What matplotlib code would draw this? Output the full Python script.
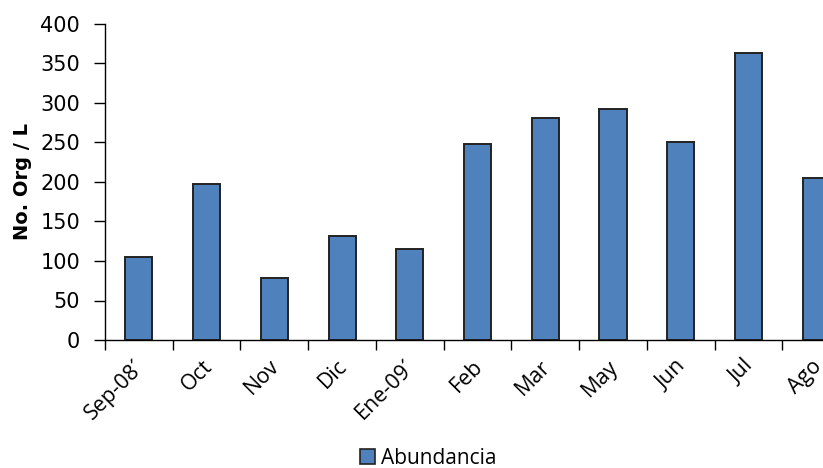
import matplotlib.pyplot as plt
import matplotlib.transforms as mtransforms
from matplotlib.patches import Patch
import numpy as np

# Monthly abundance
months = ["Sep-08´", "Oct", "Nov", "Dic", "Ene-09´", "Feb", "Mar", "May", "Jun", "Jul", "Ago"]
abundancia = [105, 197, 79, 132, 115, 248, 281, 292, 251, 363, 205]
y_ticks = [0, 50, 100, 150, 200, 250, 300, 350, 400]

BAR_COLOR = "#4F81BD"
EDGE_COLOR = "#222222"

fig = plt.figure(figsize=(8.23, 4.68), dpi=100)
# axes run past the right edge, so the last bar is cut like in the original
ax = fig.add_axes([105 / 823, 128 / 468, 745 / 823, 316 / 468])

x = np.arange(len(months))
ax.bar(x, abundancia, width=0.4, color=BAR_COLOR, edgecolor=EDGE_COLOR, linewidth=1.4)

ax.set_xlim(-0.5, len(months) - 0.5)
ax.set_ylim(0, 400)
ax.set_yticks(y_ticks)
ax.tick_params(axis="y", direction="out", length=8, width=1, labelsize=15, pad=10)

# ticks between categories, labels at the bar centers
ax.set_xticks(np.arange(len(months) + 1) - 0.5)
ax.set_xticklabels([])
ax.set_xticks(x, minor=True)
ax.set_xticklabels(months, minor=True, rotation=45, ha="right", rotation_mode="anchor",
                   family="Open Sans", fontsize=15.5)
ax.tick_params(axis="x", which="major", direction="out", length=7, width=1)
ax.tick_params(axis="x", which="minor", length=0, pad=10)

# nudge the slanted labels a little to the left
shift = mtransforms.ScaledTranslation(-5 / 100, -2 / 100, fig.dpi_scale_trans)
for lbl in ax.get_xticklabels(minor=True):
    lbl.set_transform(lbl.get_transform() + shift)

for side in ["top", "right"]:
    ax.spines[side].set_visible(False)
for side in ["left", "bottom"]:
    ax.spines[side].set_linewidth(1)

ax.set_ylabel("No. Org / L", fontsize=14, fontweight="bold", labelpad=6)

handle = Patch(facecolor=BAR_COLOR, edgecolor=EDGE_COLOR, linewidth=1.2)
fig.legend([handle], ["Abundancia"], loc="center", bbox_to_anchor=(428 / 823, 1 - 458 / 468),
           frameon=False, prop={"family": "Open Sans", "size": 15},
           handlelength=0.75, handleheight=0.75, handletextpad=0.25)

fig.savefig("out.png", dpi=100)
